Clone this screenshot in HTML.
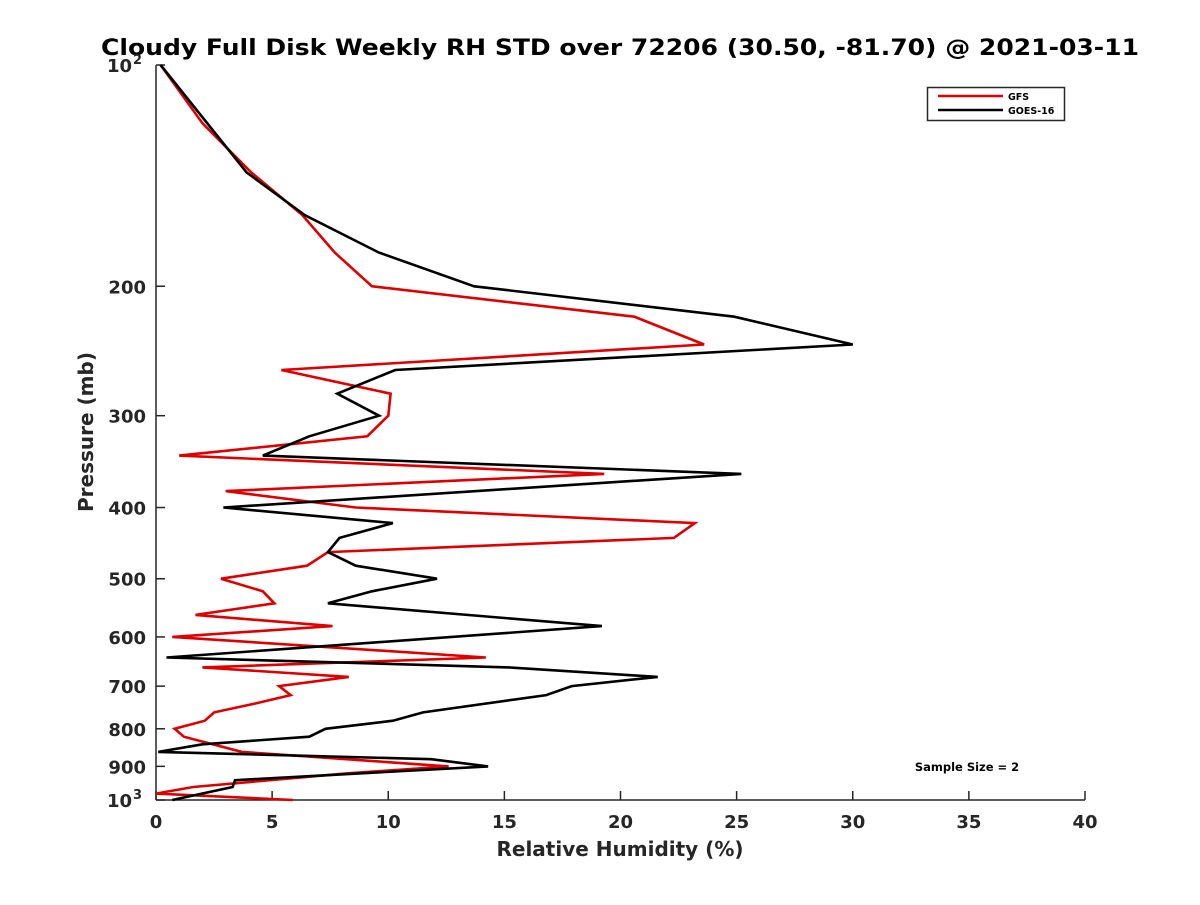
<!DOCTYPE html>
<html><head><meta charset="utf-8"><style>
body{margin:0;background:#fff}
svg text{font-family:"DejaVu Sans","Liberation Sans",sans-serif;font-weight:bold}
</style></head><body>
<svg id="chart" width="1200" height="900" viewBox="0 0 1200 900" xmlns="http://www.w3.org/2000/svg">
<rect width="1200" height="900" fill="#fff"/>
<text x="620" y="55" text-anchor="middle" font-size="22" fill="#000" textLength="1038" lengthAdjust="spacingAndGlyphs">Cloudy Full Disk Weekly RH STD over 72206 (30.50, -81.70) @ 2021-03-11</text>
<g id="axes"></g>
<g id="series"></g>
<text x="620" y="856" text-anchor="middle" font-size="20" fill="#262626">Relative Humidity (%)</text>
<text x="0" y="0" transform="translate(93,432) rotate(-90)" text-anchor="middle" font-size="20" fill="#262626">Pressure (mb)</text>
<g>
<rect x="927.5" y="87.5" width="137" height="33" fill="#fff" stroke="#262626" stroke-width="1.5"/>
<line x1="938" y1="96" x2="1003" y2="96" stroke="#e00000" stroke-width="2.5"/>
<text x="1008" y="100" font-size="9.5" fill="#000">GFS</text>
<line x1="938" y1="110" x2="1003" y2="110" stroke="#000" stroke-width="2.5"/>
<text x="1008" y="114" font-size="9.5" fill="#000">GOES-16</text>
</g>
<text x="967" y="771" text-anchor="middle" font-size="11.5" fill="#000">Sample Size = 2</text>
</svg>
<script>
const xTicks=[0,5,10,15,20,25,30,35,40];
const yTicks=[100,200,300,400,500,600,700,800,900,1000];
const gfsPressure=[100,120,140,160,180,200,220,240,260,280,300,320,340,360,380,400,420,440,460,480,500,520,540,560,580,600,640,660,680,700,720,740,760,780,800,820,860,900,920,960,980,1000];
const gfsRH=[0.2,2.0,4.1,6.3,7.7,9.3,20.6,23.6,5.4,10.1,10.0,9.1,1.0,19.3,3.0,8.6,23.2,22.3,7.4,6.5,2.8,4.6,5.1,1.7,7.6,0.7,14.2,2.0,8.3,5.3,5.8,4.2,2.5,2.1,0.8,1.2,3.7,12.6,8.2,1.6,0.0,5.9];
const goesPressure=[100,140,160,180,200,220,240,260,280,300,320,340,360,400,420,440,460,480,500,520,540,580,640,660,680,700,720,760,780,800,820,840,860,880,900,940,960,1000];
const goesRH=[0.2,3.9,6.4,9.6,13.7,24.9,30.0,10.3,7.8,9.6,6.6,4.6,25.2,2.9,10.2,7.9,7.4,8.6,12.1,9.3,7.4,19.2,0.45,15.2,21.6,17.9,16.8,11.5,10.2,7.3,6.6,2.0,0.1,11.85,14.3,3.4,3.3,0.7];

const X0=156,X1=1085,Y0=65,Y1=800;
function xScale(v){return X0+(v-0)/(40-0)*(X1-X0);}
function yScale(p){return Y0+(Math.log10(p)-2)*(Y1-Y0);}
const NS="http://www.w3.org/2000/svg";
const axes=document.getElementById('axes');
function mk(tag,attrs,parent){const e=document.createElementNS(NS,tag);for(const k in attrs)e.setAttribute(k,attrs[k]);parent.appendChild(e);return e;}
const ax=mk('line',{x1:X0,y1:Y0,x2:X0,y2:Y1,stroke:'#262626','stroke-width':1.5},axes);


const bx=mk('line',{x1:X0,y1:Y1,x2:X1,y2:Y1,stroke:'#262626','stroke-width':1.5},axes);


xTicks.forEach(v=>{
  const x=xScale(v);
  const t=mk('line',{x1:x,y1:Y1,x2:x,y2:Y1-9,stroke:'#262626','stroke-width':1.5},axes);
  
  
  const l=mk('text',{x:x,y:Y1+28,'text-anchor':'middle','font-size':18,fill:'#262626'},axes);
  l.textContent=String(v);
  
  
});
yTicks.forEach(p=>{
  const y=yScale(p);
  const t=mk('line',{x1:X0,y1:y,x2:X0+9,y2:y,stroke:'#262626','stroke-width':1.5},axes);
  
  
  const l=mk('text',{x:X0-10,y:y+7,'text-anchor':'end','font-size':18,fill:'#262626'},axes);
  
  
  if(p===100||p===1000){
    l.setAttribute('x',X0-24);
    l.textContent='10';
    const s=mk('text',{x:X0-23,y:y-1,'text-anchor':'start','font-size':13,fill:'#262626'},axes);
    s.textContent=p===100?'2':'3';
    
    
  } else l.textContent=String(p);
});
const series=document.getElementById('series');
function drawLine(ps,vs,color,name){
  const pts=ps.map((p,i)=>xScale(vs[i]).toFixed(1)+','+yScale(p).toFixed(1)).join(' ');
  const pl=mk('polyline',{points:pts,fill:'none',stroke:color,'stroke-width':2.6,'stroke-linejoin':'miter'},series);
  
  
}
drawLine(gfsPressure,gfsRH,'#e00000','gfs-line');
drawLine(goesPressure,goesRH,'#000','goes16-line');
</script>
</body></html>
